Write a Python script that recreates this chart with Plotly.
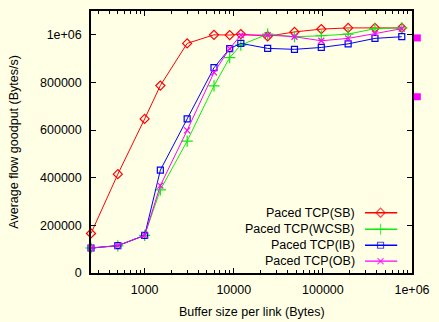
import plotly.graph_objects as go

# ---- data ----
buffer_sizes = [250, 500, 1000, 1500, 3000, 6000, 9000, 12000, 24000, 48000, 96000, 192000, 384000, 768000]
sb = [166000, 415000, 647000, 787000, 964000, 1000000, 999000, 1003000, 994000, 1012000, 1024000, 1029000, 1029000, 1029000]
wcsb = [105000, 114000, 158000, 349000, 554000, 786000, 904000, 957000, 1003000, 992000, 996000, 1003000, 1026000, 1029000]
ib = [105000, 115000, 158000, 432000, 647000, 862000, 942000, 964000, 943000, 939000, 947000, 962000, 985000, 992000]
ob = [105000, 115000, 158000, 367000, 599000, 842000, 942000, 999000, 999000, 992000, 975000, 985000, 1005000, 1026000]
stray_y = [987000, 740000]   # filled squares drawn just outside the right border

series_names = ["Paced TCP(SB)", "Paced TCP(WCSB)", "Paced TCP(IB)", "Paced TCP(OB)"]
colors = ["#ff0000", "#10e810", "#0000ff", "#ff00ff"]
symbols = ["diamond-open", "cross-thin-open", "square-open", "x-thin-open"]
msizes = [7, 8, 6, 6]

y_tickvals = [0, 200000, 400000, 600000, 800000, 1000000]
y_ticktext = ["0", "200000", "400000", "600000", "800000", "1e+06"]
x_tickvals = [1000, 10000, 100000, 1000000]
x_ticktext = ["1000", "10000", "100000", "1e+06"]

bg = "#ffffe6"
font = "Liberation Sans, Arial, sans-serif"
fs = 12.5

fig = go.Figure()
all_y = [sb, wcsb, ib, ob]
for name, ys, c, s, ms in zip(series_names, all_y, colors, symbols, msizes):
    fig.add_trace(go.Scatter(
        x=buffer_sizes, y=ys, mode="lines+markers", name=name,
        line=dict(color=c, width=1),
        marker=dict(symbol=s, size=ms, color=c, line=dict(color=c, width=1.2)),
        showlegend=False, cliponaxis=False,
    ))

for yv in stray_y:
    fig.add_shape(type="rect", xref="paper", yref="y",
                  xsizemode="pixel", ysizemode="pixel",
                  xanchor=1.0166, yanchor=yv,
                  x0=-3.5, x1=3.5, y0=-3.5, y1=3.5,
                  fillcolor="#ff00ff", line=dict(width=0))

# ---- gnuplot-style key (text right, sample on the right) ----
key_rows_y = [0.23, 0.167, 0.106, 0.045]
kx0, kxm, kx1 = 0.8536, 0.902, 0.954
for name, c, s, ms, ky in zip(series_names, colors, symbols, msizes, key_rows_y):
    fig.add_trace(go.Scatter(
        x=[kx0, kxm, kx1], y=[ky, ky, ky], xaxis="x2", yaxis="y2",
        mode="lines+markers", line=dict(color=c, width=1.3),
        marker=dict(symbol=s, size=[0, ms, 0], color=c, line=dict(color=c, width=1.2)),
        showlegend=False, hoverinfo="skip",
    ))
    fig.add_annotation(x=0.8275, y=ky, xref="paper", yref="paper", text=name,
                       showarrow=False, xanchor="right", yanchor="middle",
                       font=dict(family=font, size=fs, color="#000000"))

# axis titles
fig.add_annotation(x=0.5, y=-0.1477, xref="paper", yref="paper",
                   text="Buffer size per link (Bytes)", showarrow=False,
                   xanchor="center", yanchor="middle",
                   font=dict(family=font, size=fs, color="#000000"))
fig.add_annotation(x=-0.241, y=0.5, xref="paper", yref="paper",
                   text="Average flow goodput (Bytes/s)", showarrow=False,
                   textangle=-90, xanchor="center", yanchor="middle",
                   font=dict(family=font, size=fs, color="#000000"))

minor_vals = []
for d in [100, 1000, 10000, 100000]:
    for k in range(2, 10):
        v = k * d
        if 250 <= v <= 1000000:
            minor_vals.append(v)

fig.update_layout(
    width=439, height=322,
    margin=dict(l=90.7, r=22, t=9, b=49),
    paper_bgcolor=bg, plot_bgcolor=bg,
    font=dict(family=font, size=fs, color="#000000"),
    xaxis=dict(
        type="log", range=[2.39794, 6], showgrid=False, zeroline=False,
        tickvals=x_tickvals, ticktext=x_ticktext,
        ticks="inside", ticklen=5, tickcolor="#000", tickwidth=1,
        showline=True, linecolor="#000", linewidth=1.5, mirror="ticks",
        ticklabelstandoff=4,
        minor=dict(tickvals=minor_vals, ticks="inside", ticklen=3, tickcolor="#000", showgrid=False),
    ),
    yaxis=dict(
        range=[0, 1100000], showgrid=False, zeroline=False,
        tickvals=y_tickvals, ticktext=y_ticktext,
        ticks="inside", ticklen=5, tickcolor="#000", tickwidth=1,
        showline=True, linecolor="#000", linewidth=1.5, mirror="ticks",
        ticklabelstandoff=5,
    ),
    xaxis2=dict(overlaying="x", range=[0, 1], visible=False),
    yaxis2=dict(overlaying="y", range=[0, 1], visible=False),
    showlegend=False,
)

fig.write_html("out.html")
